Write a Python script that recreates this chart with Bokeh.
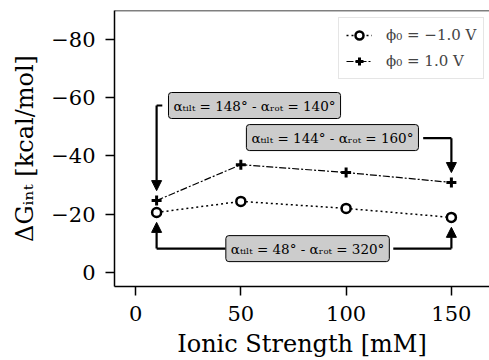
from bokeh.plotting import figure
from bokeh.models import Range1d, Label, Arrow, NormalHead, Span, Legend, LegendItem, FixedTicker
from bokeh.embed import file_html
from bokeh.resources import INLINE

# ---- data ----
ionic = [10, 50, 100, 150]
dg_neg = [-20.6, -24.4, -22.0, -18.9]   # phi0 = -1.0 V
dg_pos = [-24.7, -37.0, -34.3, -30.9]   # phi0 = +1.0 V
x_ticks = [0, 50, 100, 150]
y_ticks = [-80, -60, -40, -20, 0]
y_tick_labels = ["\u221280", "\u221260", "\u221240", "\u221220", "0"]
series_labels = ["\u03d5\u2080 = \u22121.0 V", "\u03d5\u2080 = 1.0 V"]
annot_texts = [
    "\u03b1\u209c\u1d62\u2097\u209c = 148\u00b0 - \u03b1\u1d63\u2092\u209c = 140\u00b0",
    "\u03b1\u209c\u1d62\u2097\u209c = 144\u00b0 - \u03b1\u1d63\u2092\u209c = 160\u00b0",
    "\u03b1\u209c\u1d62\u2097\u209c = 48\u00b0 - \u03b1\u1d63\u2092\u209c = 320\u00b0",
]

SERIF = "DejaVu Serif"

p = figure(width=489, height=360, output_backend="svg", toolbar_location=None,
           x_range=Range1d(-10, 168.1), y_range=Range1d(4.8, -89.9),
           min_border_left=114, min_border_right=0, min_border_top=10, min_border_bottom=74)
p.outline_line_color = None
p.xgrid.visible = False
p.ygrid.visible = False
p.background_fill_color = "white"
p.border_fill_color = "white"

# top spine
p.add_layout(Span(location=-89.9, dimension="width", line_color="black", line_width=1.5))

for ax in (p.xaxis[0], p.yaxis[0]):
    ax.axis_line_width = 1.5
    ax.axis_line_color = "black"
    ax.major_tick_line_width = 1.5
    ax.major_tick_line_color = "black"
    ax.major_tick_in = 0
    ax.major_tick_out = 9
    ax.minor_tick_out = 0
    ax.minor_tick_in = 0
    ax.major_label_text_font = SERIF
    ax.major_label_text_font_size = "21px"
    ax.major_label_text_color = "black"
    ax.axis_label_text_font = SERIF
    ax.axis_label_text_font_size = "24px"
    ax.axis_label_text_font_style = "normal"
    ax.axis_label_text_color = "black"

p.xaxis.ticker = FixedTicker(ticks=x_ticks)
p.yaxis.ticker = FixedTicker(ticks=y_ticks)
p.yaxis.major_label_overrides = {t: l for t, l in zip(y_ticks, y_tick_labels)}
p.xaxis.axis_label = "Ionic Strength [mM]"
p.yaxis.axis_label = "\u0394G\u1d62\u2099\u209c [kcal/mol]"
p.xaxis.major_label_standoff = 10
p.xaxis.axis_label_standoff = 6
p.yaxis.major_label_standoff = 10
p.yaxis.axis_label_standoff = 9

# series
r1l = p.line(ionic, dg_neg, line_color="black", line_width=1.5, line_dash="2 3")
r1s = p.scatter(ionic, dg_neg, marker="circle", size=9, fill_color="white",
                line_color="black", line_width=2.5)
r2l = p.line(ionic, dg_pos, line_color="black", line_width=1.2, line_dash="7 2 2 2")
r2s = p.scatter(ionic, dg_pos, marker="cross", size=10, line_color="black", line_width=3)

legend = Legend(items=[LegendItem(label=series_labels[0], renderers=[r1l, r1s]),
                       LegendItem(label=series_labels[1], renderers=[r2l, r2s])],
                location=(224, 207), label_text_font=SERIF, label_text_font_size="15px",
                glyph_width=26, glyph_height=20, spacing=6, padding=7, label_standoff=14,
                border_line_color="#cccccc", border_line_width=1.5,
                background_fill_color="white", background_fill_alpha=1.0)
p.add_layout(legend)

# annotations: boxes
box_style = dict(text_align="center", text_baseline="middle", text_font=SERIF,
                 text_font_size="13.5px", text_color="black",
                 background_fill_color="#cccccc", border_line_color="black",
                 border_line_width=1, padding=5, border_radius=3)
p.add_layout(Label(x=56.5, y=-57.3, text=annot_texts[0], **box_style))
p.add_layout(Label(x=93.5, y=-46.3, text=annot_texts[1], **box_style))
p.add_layout(Label(x=81.7, y=-8.2, text=annot_texts[2], **box_style))

# connector paths + arrow heads
tip = 3.4
paths = [
    ([12.7, ionic[0]], [-57.3, -57.3], ionic[0], -57.3, dg_pos[0] - tip),
    ([136.6, ionic[3]], [-46.1, -46.1], ionic[3], -46.1, dg_pos[3] - tip),
    ([42.7, ionic[0]], [-8.2, -8.2], ionic[0], -8.2, dg_neg[0] + tip),
    ([122.4, ionic[3]], [-8.2, -8.2], ionic[3], -8.2, dg_neg[3] + tip),
]
for xs, ys, xc, yc, yt in paths:
    p.line(xs, ys, line_color="black", line_width=2.2, line_join="round")
    p.add_layout(Arrow(end=NormalHead(size=10, fill_color="black", line_color="black", line_width=1),
                       x_start=xc, y_start=yc, x_end=xc, y_end=yt,
                       line_color="black", line_width=2.2))

open("out.html", "w").write(file_html(p, INLINE))
